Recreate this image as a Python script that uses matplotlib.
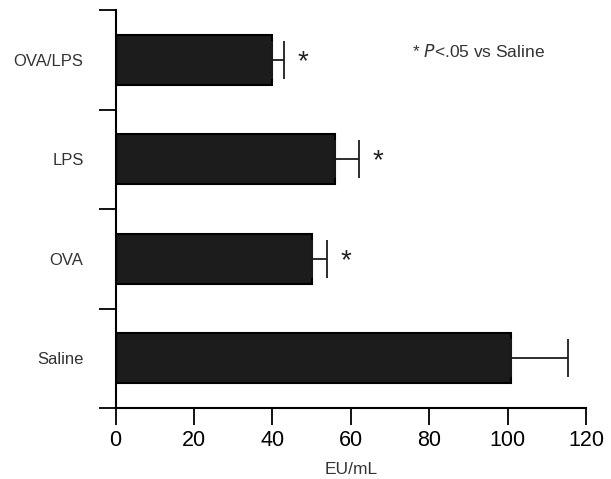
import numpy as np
import matplotlib
matplotlib.use("Agg")
import matplotlib.pyplot as plt

plt.rcParams['font.family'] = ['Liberation Sans', 'DejaVu Sans']

# data, bottom to top
groups = ["Saline", "OVA", "LPS", "OVA/LPS"]
means = [100.8, 50, 56, 40]
errors = [14.6, 4, 6, 3]
signif = [False, True, True, True]
xticks = [0, 20, 40, 60, 80, 100, 120]

fig = plt.figure(figsize=(6.11, 4.79), dpi=100)
ax = fig.add_axes([115.5/611, 71/479, (586-115.5)/611, 398/479])

y = np.arange(len(groups))
ax.barh(y, means, height=0.5, color="#1c1c1c", edgecolor="black", linewidth=1.5)
ax.errorbar(means, y, xerr=[np.zeros(len(errors)), errors], fmt="none",
            ecolor="#1c1c1c", elinewidth=1.3, capsize=14, capthick=1.3)

# significance stars
for yi, m, e, s in zip(y, means, errors, signif):
    if s:
        ax.text(m + e + 4.8, yi - 0.02, "*", fontsize=20, ha="center", va="center",
                color="#222222")

ax.text(75.5, 3.08, "* $\\it{P}$<.05 vs Saline", fontsize=12.5, va="center",
        ha="left", color="#333333")

ax.set_xlim(0, 120)
ax.set_ylim(-0.5, len(groups) - 0.5)
ax.set_xticks(xticks)
ax.set_xticklabels([str(t) for t in xticks], fontsize=15.5)
ax.tick_params(axis="x", length=12, width=1.3, pad=4)

# category separators as major ticks, labels as minor ticks
ax.set_yticks(np.arange(-0.5, len(groups), 1.0))
ax.set_yticklabels([])
ax.set_yticks(y, minor=True)
ax.set_yticklabels(groups, minor=True, fontsize=12, color="#333333")
ax.tick_params(axis="y", which="major", length=12, width=1.3)
ax.tick_params(axis="y", which="minor", length=0, pad=23)

ax.set_xlabel("EU/mL", fontsize=12.5, color="#333333", labelpad=8)

for side in ["top", "right"]:
    ax.spines[side].set_visible(False)
for side in ["left", "bottom"]:
    ax.spines[side].set_linewidth(1.5)

fig.savefig("out.png", dpi=100)
